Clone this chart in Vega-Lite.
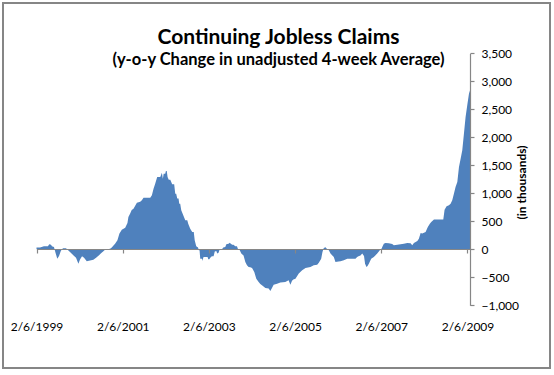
{
  "$schema": "https://vega.github.io/schema/vega-lite/v6.json",
  "width": 547,
  "height": 365,
  "autosize": {"type": "none"},
  "padding": {"left": 3, "top": 3, "right": 4, "bottom": 7},
  "background": "white",
  "title": {
    "text": "Continuing Jobless Claims",
    "subtitle": "(y-o-y Change in unadjusted 4-week Average)",
    "anchor": "middle",
    "frame": "group",
    "offset": -65,
    "dx": 2,
    "font": "Lato",
    "fontSize": 21,
    "fontWeight": "bold",
    "color": "black",
    "subtitleFont": "Lato",
    "subtitleFontSize": 16.5,
    "subtitleFontWeight": "bold",
    "subtitleColor": "black",
    "subtitlePadding": 4
  },
  "config": {
    "view": {"stroke": "#868686", "strokeWidth": 2},
    "font": "Lato"
  },
  "data": {
    "values": [
      {"date": "1999-02-06", "value": 30},
      {"date": "1999-03-08", "value": 30},
      {"date": "1999-04-10", "value": 55},
      {"date": "1999-05-14", "value": 55},
      {"date": "1999-05-25", "value": 90},
      {"date": "1999-06-09", "value": 80},
      {"date": "1999-06-17", "value": 55},
      {"date": "1999-07-04", "value": 40},
      {"date": "1999-07-17", "value": -60},
      {"date": "1999-08-01", "value": -167},
      {"date": "1999-08-16", "value": -120},
      {"date": "1999-08-31", "value": -30},
      {"date": "1999-09-10", "value": 0},
      {"date": "1999-09-19", "value": 18},
      {"date": "1999-10-14", "value": 18},
      {"date": "1999-10-23", "value": 0},
      {"date": "1999-11-17", "value": -50},
      {"date": "1999-12-15", "value": -107},
      {"date": "2000-01-07", "value": -150},
      {"date": "2000-01-27", "value": -256},
      {"date": "2000-02-10", "value": -180},
      {"date": "2000-02-27", "value": -125},
      {"date": "2000-03-15", "value": -150},
      {"date": "2000-04-07", "value": -214},
      {"date": "2000-05-05", "value": -200},
      {"date": "2000-06-02", "value": -185},
      {"date": "2000-06-25", "value": -150},
      {"date": "2000-07-20", "value": -107},
      {"date": "2000-08-06", "value": -70},
      {"date": "2000-08-26", "value": -36},
      {"date": "2000-09-09", "value": -10},
      {"date": "2000-09-29", "value": 0},
      {"date": "2000-10-22", "value": 10},
      {"date": "2000-11-05", "value": 30},
      {"date": "2000-11-16", "value": 60},
      {"date": "2000-12-03", "value": 100},
      {"date": "2000-12-23", "value": 160},
      {"date": "2001-01-09", "value": 280},
      {"date": "2001-01-29", "value": 350},
      {"date": "2001-02-27", "value": 387},
      {"date": "2001-03-18", "value": 470},
      {"date": "2001-03-26", "value": 577},
      {"date": "2001-04-10", "value": 640},
      {"date": "2001-04-23", "value": 700},
      {"date": "2001-05-08", "value": 726},
      {"date": "2001-06-06", "value": 833},
      {"date": "2001-07-04", "value": 850},
      {"date": "2001-07-18", "value": 875},
      {"date": "2001-08-01", "value": 922},
      {"date": "2001-09-27", "value": 922},
      {"date": "2001-10-11", "value": 964},
      {"date": "2001-10-25", "value": 1083},
      {"date": "2001-11-08", "value": 1172},
      {"date": "2001-11-25", "value": 1291},
      {"date": "2001-12-21", "value": 1291},
      {"date": "2002-01-04", "value": 1369},
      {"date": "2002-01-12", "value": 1262},
      {"date": "2002-01-19", "value": 1351},
      {"date": "2002-02-01", "value": 1351},
      {"date": "2002-02-07", "value": 1399},
      {"date": "2002-02-14", "value": 1399},
      {"date": "2002-02-21", "value": 1291},
      {"date": "2002-03-03", "value": 1244},
      {"date": "2002-03-16", "value": 1244},
      {"date": "2002-04-01", "value": 1160},
      {"date": "2002-04-18", "value": 1160},
      {"date": "2002-04-27", "value": 994},
      {"date": "2002-05-05", "value": 994},
      {"date": "2002-05-14", "value": 905},
      {"date": "2002-05-25", "value": 905},
      {"date": "2002-05-31", "value": 815},
      {"date": "2002-06-08", "value": 815},
      {"date": "2002-06-17", "value": 696},
      {"date": "2002-07-04", "value": 607},
      {"date": "2002-07-21", "value": 518},
      {"date": "2002-08-07", "value": 518},
      {"date": "2002-08-15", "value": 458},
      {"date": "2002-09-01", "value": 369},
      {"date": "2002-09-18", "value": 310},
      {"date": "2002-10-01", "value": 310},
      {"date": "2002-10-09", "value": 161},
      {"date": "2002-10-22", "value": 54},
      {"date": "2002-11-06", "value": 30},
      {"date": "2002-11-13", "value": -18},
      {"date": "2002-11-19", "value": -18},
      {"date": "2002-11-25", "value": -167},
      {"date": "2002-12-10", "value": -167},
      {"date": "2002-12-12", "value": -208},
      {"date": "2002-12-18", "value": -167},
      {"date": "2002-12-23", "value": -137},
      {"date": "2003-01-07", "value": -137},
      {"date": "2003-01-26", "value": -137},
      {"date": "2003-02-01", "value": -179},
      {"date": "2003-02-10", "value": -179},
      {"date": "2003-02-18", "value": -150},
      {"date": "2003-03-03", "value": -125},
      {"date": "2003-03-18", "value": -125},
      {"date": "2003-03-28", "value": -40},
      {"date": "2003-04-10", "value": -30},
      {"date": "2003-04-18", "value": -77},
      {"date": "2003-04-29", "value": -60},
      {"date": "2003-05-09", "value": 0},
      {"date": "2003-05-28", "value": 0},
      {"date": "2003-06-08", "value": 30},
      {"date": "2003-06-25", "value": 40},
      {"date": "2003-07-04", "value": 89},
      {"date": "2003-07-23", "value": 100},
      {"date": "2003-08-02", "value": 119},
      {"date": "2003-08-11", "value": 100},
      {"date": "2003-08-23", "value": 83},
      {"date": "2003-09-03", "value": 83},
      {"date": "2003-09-18", "value": 54},
      {"date": "2003-10-02", "value": 54},
      {"date": "2003-10-13", "value": -6},
      {"date": "2003-10-24", "value": -6},
      {"date": "2003-11-08", "value": -77},
      {"date": "2003-11-27", "value": -110},
      {"date": "2003-12-12", "value": -226},
      {"date": "2003-12-26", "value": -286},
      {"date": "2004-01-09", "value": -315},
      {"date": "2004-01-23", "value": -320},
      {"date": "2004-02-07", "value": -333},
      {"date": "2004-02-26", "value": -405},
      {"date": "2004-03-14", "value": -524},
      {"date": "2004-04-03", "value": -583},
      {"date": "2004-04-17", "value": -620},
      {"date": "2004-05-01", "value": -643},
      {"date": "2004-05-17", "value": -670},
      {"date": "2004-05-30", "value": -690},
      {"date": "2004-06-27", "value": -702},
      {"date": "2004-07-11", "value": -744},
      {"date": "2004-07-25", "value": -690},
      {"date": "2004-08-08", "value": -631},
      {"date": "2004-09-06", "value": -613},
      {"date": "2004-10-04", "value": -595},
      {"date": "2004-11-15", "value": -583},
      {"date": "2004-12-13", "value": -553},
      {"date": "2004-12-28", "value": -631},
      {"date": "2005-01-11", "value": -560},
      {"date": "2005-01-22", "value": -540},
      {"date": "2005-02-09", "value": -524},
      {"date": "2005-03-09", "value": -434},
      {"date": "2005-04-07", "value": -375},
      {"date": "2005-05-05", "value": -333},
      {"date": "2005-06-16", "value": -315},
      {"date": "2005-07-14", "value": -286},
      {"date": "2005-08-12", "value": -274},
      {"date": "2005-08-26", "value": -238},
      {"date": "2005-09-15", "value": -167},
      {"date": "2005-09-26", "value": -48},
      {"date": "2005-10-07", "value": 24},
      {"date": "2005-10-22", "value": 36},
      {"date": "2005-11-05", "value": 0},
      {"date": "2005-11-19", "value": -18},
      {"date": "2005-12-03", "value": -77},
      {"date": "2005-12-31", "value": -137},
      {"date": "2006-01-14", "value": -226},
      {"date": "2006-02-09", "value": -220},
      {"date": "2006-02-26", "value": -214},
      {"date": "2006-03-26", "value": -196},
      {"date": "2006-04-24", "value": -167},
      {"date": "2006-05-22", "value": -167},
      {"date": "2006-07-03", "value": -167},
      {"date": "2006-07-17", "value": -137},
      {"date": "2006-07-28", "value": -125},
      {"date": "2006-08-14", "value": -110},
      {"date": "2006-08-29", "value": -77},
      {"date": "2006-09-13", "value": -120},
      {"date": "2006-09-22", "value": -256},
      {"date": "2006-10-04", "value": -315},
      {"date": "2006-10-13", "value": -300},
      {"date": "2006-10-24", "value": -256},
      {"date": "2006-11-13", "value": -167},
      {"date": "2006-12-05", "value": -137},
      {"date": "2007-01-03", "value": -77},
      {"date": "2007-01-25", "value": -18},
      {"date": "2007-02-06", "value": 0},
      {"date": "2007-02-15", "value": 42},
      {"date": "2007-02-28", "value": 101},
      {"date": "2007-03-14", "value": 113},
      {"date": "2007-04-11", "value": 107},
      {"date": "2007-05-10", "value": 95},
      {"date": "2007-05-24", "value": 71},
      {"date": "2007-06-22", "value": 80},
      {"date": "2007-07-20", "value": 89},
      {"date": "2007-08-17", "value": 101},
      {"date": "2007-09-15", "value": 113},
      {"date": "2007-10-13", "value": 107},
      {"date": "2007-10-27", "value": 71},
      {"date": "2007-11-10", "value": 113},
      {"date": "2007-12-09", "value": 149},
      {"date": "2007-12-22", "value": 190},
      {"date": "2008-01-06", "value": 292},
      {"date": "2008-01-20", "value": 280},
      {"date": "2008-02-17", "value": 309},
      {"date": "2008-03-07", "value": 399},
      {"date": "2008-03-24", "value": 458},
      {"date": "2008-04-05", "value": 488},
      {"date": "2008-04-28", "value": 530},
      {"date": "2008-06-23", "value": 530},
      {"date": "2008-07-16", "value": 530},
      {"date": "2008-07-27", "value": 708},
      {"date": "2008-08-13", "value": 768},
      {"date": "2008-09-02", "value": 786},
      {"date": "2008-09-16", "value": 815},
      {"date": "2008-09-30", "value": 875},
      {"date": "2008-10-14", "value": 994},
      {"date": "2008-10-28", "value": 1113},
      {"date": "2008-11-12", "value": 1202},
      {"date": "2008-11-26", "value": 1470},
      {"date": "2008-12-10", "value": 1619},
      {"date": "2008-12-24", "value": 1768},
      {"date": "2009-01-07", "value": 2065},
      {"date": "2009-01-21", "value": 2363},
      {"date": "2009-02-06", "value": 2601},
      {"date": "2009-02-19", "value": 2780},
      {"date": "2009-02-28", "value": 2839},
      {"date": "2009-03-02", "value": 2850}
    ]
  },
  "mark": {"type": "area", "color": "#4F81BD"},
  "encoding": {
    "x": {
      "field": "date",
      "type": "temporal",
      "scale": {
        "type": "utc",
        "domain": [
          {"year": 1999, "month": 2, "date": 6, "utc": true},
          {"year": 2009, "month": 3, "date": 2, "utc": true}
        ],
        "range": [33.5, 467.3]
      },
      "axis": {
        "orient": "bottom",
        "offset": -119,
        "zindex": 1,
        "values": [
          {"year": 1999, "month": 2, "date": 6, "utc": true},
          {"year": 2001, "month": 2, "date": 6, "utc": true},
          {"year": 2003, "month": 2, "date": 6, "utc": true},
          {"year": 2005, "month": 2, "date": 6, "utc": true},
          {"year": 2007, "month": 2, "date": 6, "utc": true},
          {"year": 2009, "month": 2, "date": 6, "utc": true}
        ],
        "format": "%-m/%-d/%Y",
        "title": null,
        "grid": false,
        "tickSize": 4,
        "labelPadding": 68,
        "labelFlush": false,
        "labelOverlap": false,
        "labelFont": "Lato",
        "labelFontSize": 12,
        "labelColor": "black",
        "domainColor": "#868686",
        "tickColor": "#868686",
        "domainWidth": 1.2,
        "tickWidth": 1.2
      }
    },
    "y": {
      "field": "value",
      "type": "quantitative",
      "stack": null,
      "scale": {"domain": [-1000, 3500], "range": [302.3, 50.3], "nice": false, "zero": false},
      "axis": {
        "orient": "right",
        "offset": -80,
        "zindex": 1,
        "values": [-1000, -500, 0, 500, 1000, 1500, 2000, 2500, 3000, 3500],
        "format": ",.0f",
        "grid": false,
        "tickSize": 4,
        "labelPadding": 7,
        "labelFont": "Lato",
        "labelFontSize": 12,
        "labelColor": "black",
        "domainColor": "#868686",
        "tickColor": "#868686",
        "domainWidth": 1.2,
        "tickWidth": 1.2,
        "title": "(in thousands)",
        "titleFont": "Lato",
        "titleFontSize": 12,
        "titleFontWeight": "bold",
        "titleColor": "black",
        "titleAngle": 270,
        "titleAlign": "center",
        "titleBaseline": "middle",
        "titleX": 51,
        "titleY": 179
      }
    },
    "y2": {"datum": 0}
  }
}
